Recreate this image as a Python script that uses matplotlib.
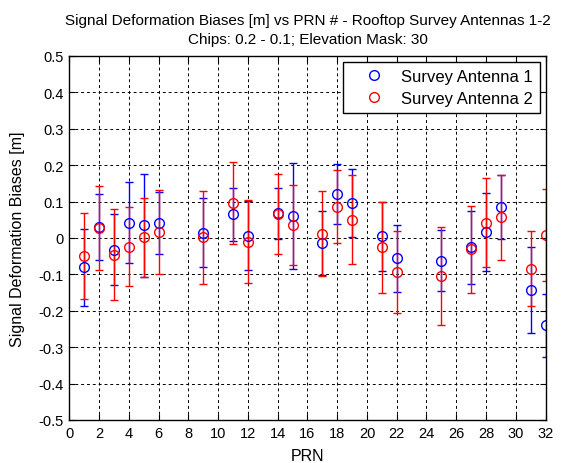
import matplotlib.pyplot as plt
from matplotlib.lines import Line2D
import numpy as np

plt.rcParams['font.family'] = ['Liberation Sans', 'DejaVu Sans']

# PRN numbers with data
prn = [1, 2, 3, 4, 5, 6, 9, 11, 12, 14, 15, 17, 18, 19, 21, 22, 25, 27, 28, 29, 31, 32]

# Survey Antenna 1: bias and error half-width [m]
bias1 = [-0.081, 0.030, -0.032, 0.042, 0.035, 0.040, 0.015, 0.065, 0.006, 0.068, 0.060,
         -0.014, 0.120, 0.096, 0.005, -0.056, -0.062, -0.026, 0.016, 0.085, -0.143, -0.240]
err1 = [0.105, 0.090, 0.098, 0.111, 0.141, 0.085, 0.095, 0.072, 0.095, 0.070, 0.146,
        0.087, 0.082, 0.094, 0.095, 0.092, 0.083, 0.101, 0.108, 0.087, 0.118, 0.086]

# Survey Antenna 2
bias2 = [-0.050, 0.028, -0.046, -0.024, 0.002, 0.016, 0.002, 0.096, -0.010, 0.066, 0.036,
         0.012, 0.086, 0.050, -0.026, -0.094, -0.104, -0.031, 0.042, 0.057, -0.084, 0.008]
err2 = [0.118, 0.115, 0.125, 0.109, 0.108, 0.116, 0.128, 0.112, 0.114, 0.109, 0.110,
        0.117, 0.101, 0.122, 0.124, 0.113, 0.134, 0.119, 0.123, 0.117, 0.102, 0.127]

fig = plt.figure(figsize=(5.81, 4.64), dpi=100)
ax = fig.add_axes([0.1196, 0.0927, 0.8193, 0.7845])

ax.errorbar(prn, bias1, yerr=err1, fmt='o', color='blue', mfc='none', ms=7,
            mew=1.0, elinewidth=1.0, capsize=3)
ax.errorbar(prn, bias2, yerr=err2, fmt='o', color='red', mfc='none', ms=7,
            mew=1.0, elinewidth=1.0, capsize=3)

ax.set_xlim(0, 32)
ax.set_ylim(-0.5, 0.5)
ax.set_xticks(np.arange(0, 33, 2))
ax.set_yticks(np.arange(-0.5, 0.51, 0.1))
ax.set_yticklabels(['-0.5', '-0.4', '-0.3', '-0.2', '-0.1', '0', '0.1', '0.2', '0.3', '0.4', '0.5'])
ax.tick_params(direction='in', top=True, right=True, labelsize=10.5, length=4, pad=4)
ax.grid(True, color='black', linestyle=(0, (3, 3)), linewidth=0.7)
for s in ax.spines.values():
    s.set_linewidth(1.0)

ax.set_xlabel('PRN', fontsize=11.5, labelpad=6)
ax.set_ylabel('Signal Deformation Biases [m]', fontsize=11.5, labelpad=10)
ax.set_title('Signal Deformation Biases [m] vs PRN # - Rooftop Survey Antennas 1-2\n'
             'Chips: 0.2 - 0.1; Elevation Mask: 30', fontsize=11, linespacing=1.5, pad=9)

handles = [Line2D([], [], ls='none', marker='o', mfc='none', mec='blue', ms=7),
           Line2D([], [], ls='none', marker='o', mfc='none', mec='red', ms=7)]
leg = ax.legend(handles, ['Survey Antenna 1', 'Survey Antenna 2'], loc='upper right',
                fontsize=12, fancybox=False, edgecolor='black', framealpha=1,
                borderaxespad=0.36, handletextpad=0.15, borderpad=0.42, labelspacing=0.4,
                handlelength=2.9)
leg.get_frame().set_linewidth(1.0)

fig.savefig('out.png', dpi=100)
